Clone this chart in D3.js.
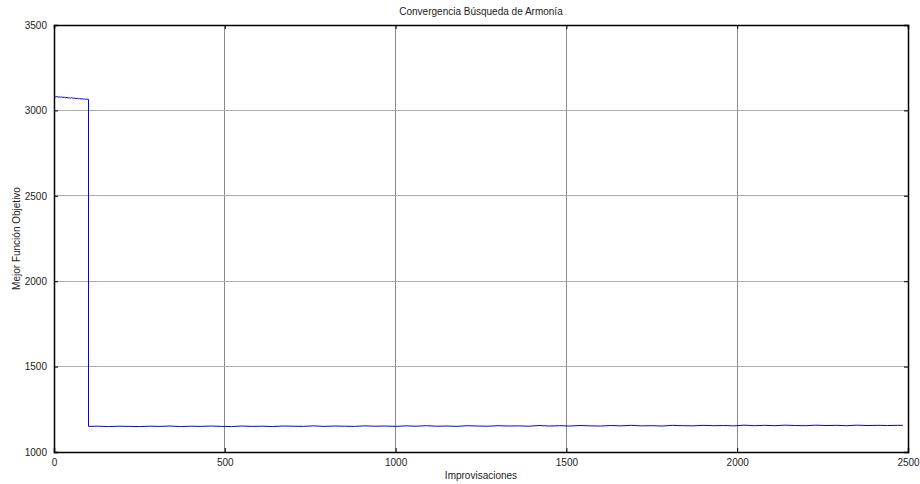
<!DOCTYPE html>
<html><head><meta charset="utf-8">
<script src="https://cdn.jsdelivr.net/npm/d3@7"></script>
<style>body{margin:0;background:#fff}svg{display:block}text{font-family:"Liberation Sans",Arial,sans-serif;}</style>
</head><body>
<svg id="c" width="920" height="484"></svg>
<script>
const title = "Convergencia Búsqueda de Armonía";
const xLabel = "Improvisaciones";
const yLabel = "Mejor Función Objetivo";
const xTicks = [0, 500, 1000, 1500, 2000, 2500];
const yTicks = [1000, 1500, 2000, 2500, 3000, 3500];
const iterPhase1 = [0, 4, 8, 12, 15, 19, 22, 26, 30, 34, 38, 42, 45, 49, 52, 56, 60, 64, 68, 72, 75, 79, 82, 86, 90, 93, 96, 101];
const valPhase1 = [3082, 3079, 3081, 3078, 3079, 3077, 3079, 3076, 3077, 3074, 3076, 3073, 3074, 3072, 3074, 3071, 3072, 3069, 3071, 3068, 3069, 3067, 3068, 3066, 3067, 3065, 3066, 3065];
const iterPhase2 = [101, 102, 130, 160, 190, 220, 250, 280, 310, 340, 370, 400, 430, 460, 490, 520, 550, 580, 610, 640, 670, 700, 730, 760, 790, 820, 850, 880, 910, 940, 970, 1000, 1030, 1060, 1090, 1120, 1150, 1180, 1210, 1240, 1270, 1300, 1330, 1360, 1390, 1420, 1450, 1480, 1510, 1540, 1570, 1600, 1630, 1660, 1690, 1720, 1750, 1780, 1810, 1840, 1870, 1900, 1930, 1960, 1990, 2020, 2050, 2080, 2110, 2140, 2170, 2200, 2230, 2260, 2290, 2320, 2350, 2380, 2410, 2440, 2470, 2485];
const valPhase2 = [1150, 1150, 1151, 1149, 1151, 1150, 1149, 1151, 1150, 1152, 1149, 1151, 1150, 1152, 1150, 1149, 1152, 1150, 1151, 1149, 1152, 1151, 1150, 1153, 1150, 1152, 1151, 1150, 1153, 1151, 1152, 1150, 1153, 1151, 1154, 1151, 1152, 1150, 1154, 1152, 1151, 1154, 1152, 1153, 1151, 1155, 1152, 1154, 1152, 1155, 1153, 1152, 1155, 1153, 1156, 1153, 1154, 1152, 1156, 1154, 1153, 1156, 1154, 1155, 1153, 1157, 1154, 1156, 1154, 1157, 1155, 1154, 1157, 1155, 1156, 1154, 1157, 1155, 1156, 1155, 1156, 1156];

const svg = d3.select("#c");
const m = {l: 54, r: 908, t: 25, b: 452};
const x = d3.scaleLinear().domain([0, 2500]).range([m.l, m.r]);
const y = d3.scaleLinear().domain([1000, 3500]).range([m.b, m.t]);

// grid
svg.append("g").selectAll("line").data(xTicks.slice(1, -1)).join("line")
  .attr("x1", d => x(d)).attr("x2", d => x(d)).attr("y1", m.t).attr("y2", m.b)
  .attr("stroke", "#8a8a8a").attr("stroke-width", 1).attr("shape-rendering", "crispEdges");
svg.append("g").selectAll("line").data(yTicks.slice(1, -1)).join("line")
  .attr("y1", d => y(d)).attr("y2", d => y(d)).attr("x1", m.l).attr("x2", m.r)
  .attr("stroke", "#ababab").attr("stroke-width", 1).attr("shape-rendering", "crispEdges");

// data line
const pts = iterPhase1.map((v, i) => [v, valPhase1[i]]).concat(iterPhase2.map((v, i) => [v, valPhase2[i]]));
svg.append("path").datum(pts)
  .attr("d", d3.line().x(d => x(d[0])).y(d => y(d[1])))
  .attr("fill", "none").attr("stroke", "#0000ff").attr("stroke-width", 1);

// axes (inner ticks)
const xb = d3.axisBottom(x).tickValues(xTicks).tickSize(-4).tickPadding(7).tickFormat(d3.format("d"));
const xt = d3.axisTop(x).tickValues(xTicks).tickSize(-4).tickFormat("");
const yl = d3.axisLeft(y).tickValues(yTicks).tickSize(-4).tickPadding(7).tickFormat(d3.format("d"));
const yr = d3.axisRight(y).tickValues(yTicks).tickSize(-4).tickFormat("");
function style(g){ g.selectAll("path").attr("stroke", "#000").attr("stroke-width", 1.5); g.selectAll("line").attr("stroke", "#000"); g.selectAll("text").attr("fill", "#222").attr("font-family", "Liberation Sans, Arial, sans-serif").attr("font-size", 10); }
svg.append("g").attr("transform", `translate(0,${m.b})`).call(xb).call(style);
svg.append("g").attr("transform", `translate(0,${m.t})`).call(xt).call(style);
svg.append("g").attr("transform", `translate(${m.l},0)`).call(yl).call(style);
svg.append("g").attr("transform", `translate(${m.r},0)`).call(yr).call(style);

svg.append("text").attr("x", (m.l + m.r) / 2).attr("y", 15).attr("text-anchor", "middle")
  .attr("font-size", 10).attr("fill", "#222").text(title);
svg.append("text").attr("x", (m.l + m.r) / 2).attr("y", 479).attr("text-anchor", "middle")
  .attr("font-size", 10).attr("fill", "#222").text(xLabel);
svg.append("text").attr("transform", `translate(20,${(m.t + m.b) / 2}) rotate(-90)`).attr("text-anchor", "middle")
  .attr("font-size", 10).attr("fill", "#222").text(yLabel);
</script>
</body></html>
